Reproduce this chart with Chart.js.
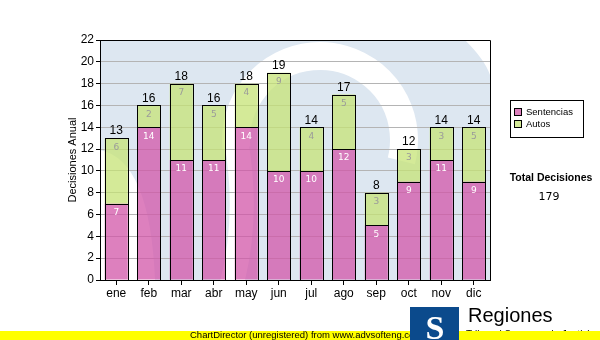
<!DOCTYPE html>
<html>
<head>
<meta charset="utf-8">
<script src="https://cdn.jsdelivr.net/npm/chart.js@4/dist/chart.umd.min.js"></script>
<style>
  body { margin: 0; background: #fff; }
  canvas { display: block; }
</style>
</head>
<body>
<canvas id="myChart" width="600" height="340"></canvas>
<script>
const months = ['ene', 'feb', 'mar', 'abr', 'may', 'jun', 'jul', 'ago', 'sep', 'oct', 'nov', 'dic'];
const sentencias = [7, 14, 11, 11, 14, 10, 10, 12, 5, 9, 11, 9];
const autos = [6, 2, 7, 5, 4, 9, 4, 5, 3, 3, 3, 5];
const yTicks = [0, 2, 4, 6, 8, 10, 12, 14, 16, 18, 20, 22];
const seriesNames = ['Sentencias', 'Autos'];
const totalLabel = 'Total Decisiones';

const pink = 'rgba(210,86,168,0.75)';
const green = 'rgba(198,227,118,0.75)';
const totalAll = sentencias.reduce((a, b) => a + b, 0) + autos.reduce((a, b) => a + b, 0);

// plot background with the faded "S" watermark
const backdrop = {
  id: 'backdrop',
  beforeDraw(chart) {
    const {ctx, chartArea: a} = chart;
    ctx.save();
    ctx.beginPath();
    ctx.rect(a.left, a.top, a.right - a.left, a.bottom - a.top);
    ctx.clip();
    ctx.fillStyle = '#dde7f1';
    ctx.fillRect(a.left, a.top, a.right - a.left, a.bottom - a.top);
    ctx.strokeStyle = '#ffffff';
    ctx.lineCap = 'butt';
    // upper arc
    ctx.lineWidth = 28;
    ctx.beginPath();
    ctx.arc(320, 140, 84, Math.PI * 0.97, Math.PI * 2.08);
    ctx.stroke();
    // middle stroke going down
    ctx.lineWidth = 24;
    ctx.beginPath();
    ctx.moveTo(236, 140);
    ctx.quadraticCurveTo(250, 220, 230, 290);
    ctx.stroke();
    // left lower white area and top-right corner
    ctx.fillStyle = '#ffffff';
    ctx.beginPath();
    ctx.moveTo(a.left, 150);
    ctx.quadraticCurveTo(150, 160, 155, 280);
    ctx.lineTo(a.left, 280);
    ctx.closePath();
    ctx.fill();
    ctx.beginPath();
    ctx.moveTo(465, a.top);
    ctx.quadraticCurveTo(485, 60, a.right, 75);
    ctx.lineTo(a.right, a.top);
    ctx.closePath();
    ctx.fill();
    ctx.restore();
  }
};

// crisp borders, value labels, frame, legend box, total and footer
const extras = {
  id: 'extras',
  afterDatasetsDraw(chart) {
    const {ctx, chartArea: a} = chart;
    const m0 = chart.getDatasetMeta(0), m1 = chart.getDatasetMeta(1);
    ctx.save();
    ctx.strokeStyle = '#000';
    ctx.lineWidth = 1;
    [m0, m1].forEach(meta => meta.data.forEach(bar => {
      const l = Math.round(bar.x - bar.width / 2), r = Math.round(bar.x + bar.width / 2);
      const t = Math.round(bar.y), b = Math.round(bar.base);
      ctx.strokeRect(l + 0.5, t + 0.5, r - l, b - t);
    }));
    ctx.textAlign = 'center';
    ctx.textBaseline = 'middle';
    ctx.font = '9px "DejaVu Sans"';
    m0.data.forEach((bar, i) => {
      ctx.fillStyle = '#ffffff';
      ctx.fillText(sentencias[i], bar.x, bar.y + 9);
    });
    m1.data.forEach((bar, i) => {
      ctx.fillStyle = '#9a9a9a';
      ctx.fillText(autos[i], bar.x, bar.y + 9);
      ctx.fillStyle = '#000';
      ctx.font = '12px "Liberation Sans"';
      ctx.textBaseline = 'bottom';
      ctx.fillText(sentencias[i] + autos[i], bar.x, bar.y - 1);
      ctx.font = '9px "DejaVu Sans"';
      ctx.textBaseline = 'middle';
    });
    // frame top/right
    ctx.beginPath();
    ctx.moveTo(a.left, a.top + 0.5);
    ctx.lineTo(a.right + 0.5, a.top + 0.5);
    ctx.lineTo(a.right + 0.5, a.bottom);
    ctx.stroke();
    ctx.restore();
  },
  afterDraw(chart) {
    const {ctx} = chart;
    ctx.save();
    // y axis title
    ctx.fillStyle = '#000';
    ctx.font = '11px "Liberation Sans"';
    ctx.textAlign = 'center';
    ctx.textBaseline = 'middle';
    ctx.translate(73, 160);
    ctx.rotate(-Math.PI / 2);
    ctx.fillText('Decisiones Anual', 0, 0);
    ctx.setTransform(1, 0, 0, 1, 0, 0);
    // legend box
    ctx.fillStyle = '#fff';
    ctx.fillRect(510.5, 100.5, 73, 37);
    ctx.strokeStyle = '#000';
    ctx.strokeRect(510.5, 100.5, 73, 37);
    [pink, green].forEach((c, i) => {
      const y = 108 + i * 12;
      ctx.fillStyle = '#fff';
      ctx.fillRect(514, y, 8, 8);
      ctx.fillStyle = c;
      ctx.fillRect(514, y, 8, 8);
      ctx.strokeStyle = '#000';
      ctx.strokeRect(514.5, y + 0.5, 7, 7);
      ctx.fillStyle = '#000';
      ctx.font = '9.5px "Liberation Sans"';
      ctx.textAlign = 'left';
      ctx.textBaseline = 'middle';
      ctx.fillText(seriesNames[i], 526, y + 4);
    });
    // total
    ctx.textAlign = 'center';
    ctx.font = 'bold 10.5px "Liberation Sans"';
    ctx.fillText(totalLabel, 551, 178);
    ctx.font = '11px "DejaVu Sans"';
    ctx.fillText(String(totalAll), 549, 197);
    // subtitle of the logo, mostly hidden by the band
    ctx.textAlign = 'left';
    ctx.textBaseline = 'alphabetic';
    ctx.font = '10px "Liberation Sans"';
    ctx.fillText('Tribunal Supremo de Justicia', 466, 338);
    // footer band
    ctx.fillStyle = '#ffff00';
    ctx.fillRect(0, 331, 600, 9);
    ctx.fillStyle = '#000';
    ctx.font = '9.5px "Liberation Sans"';
    ctx.textBaseline = 'middle';
    ctx.fillText('ChartDirector (unregistered) from www.advsofteng.com', 190, 335);
    // logo
    ctx.fillStyle = '#0b4a8c';
    ctx.fillRect(410, 307, 49, 33);
    ctx.fillStyle = '#fff';
    ctx.font = 'bold 34px "Liberation Serif"';
    ctx.textAlign = 'center';
    ctx.textBaseline = 'alphabetic';
    ctx.fillText('S', 435, 339);
    ctx.fillStyle = '#000';
    ctx.font = '20px "Liberation Sans"';
    ctx.textAlign = 'left';
    ctx.fillText('Regiones', 468, 322);
    ctx.restore();
  }
};

new Chart(document.getElementById('myChart'), {
  type: 'bar',
  data: {
    labels: months,
    datasets: [
      { label: seriesNames[0], data: sentencias, backgroundColor: pink, borderWidth: 0 },
      { label: seriesNames[1], data: autos, backgroundColor: green, borderWidth: 0 }
    ]
  },
  options: {
    responsive: false,
    animation: false,
    layout: { padding: { left: 0, right: 110, top: 40, bottom: 0 } },
    datasets: { bar: { barPercentage: 0.71, categoryPercentage: 1 } },
    plugins: { legend: { display: false }, tooltip: { enabled: false } },
    scales: {
      x: {
        stacked: true,
        afterFit(scale) { scale.height = 60; },
        grid: { offset: false, drawOnChartArea: false, tickLength: 5, tickColor: '#000' },
        border: { color: '#000' },
        ticks: { color: '#000', padding: 1, font: { family: 'Liberation Sans', size: 12 } }
      },
      y: {
        stacked: true,
        min: 0,
        max: 22,
        afterFit(scale) { scale.width = 100; },
        afterBuildTicks(scale) { scale.ticks = yTicks.map(v => ({ value: v })); },
        grid: { color: '#b4b4b4', tickLength: 4, tickColor: '#000' },
        border: { color: '#000' },
        ticks: { color: '#000', padding: 2, font: { family: 'Liberation Sans', size: 12 } }
      }
    }
  },
  plugins: [backdrop, extras]
});
</script>
</body>
</html>
